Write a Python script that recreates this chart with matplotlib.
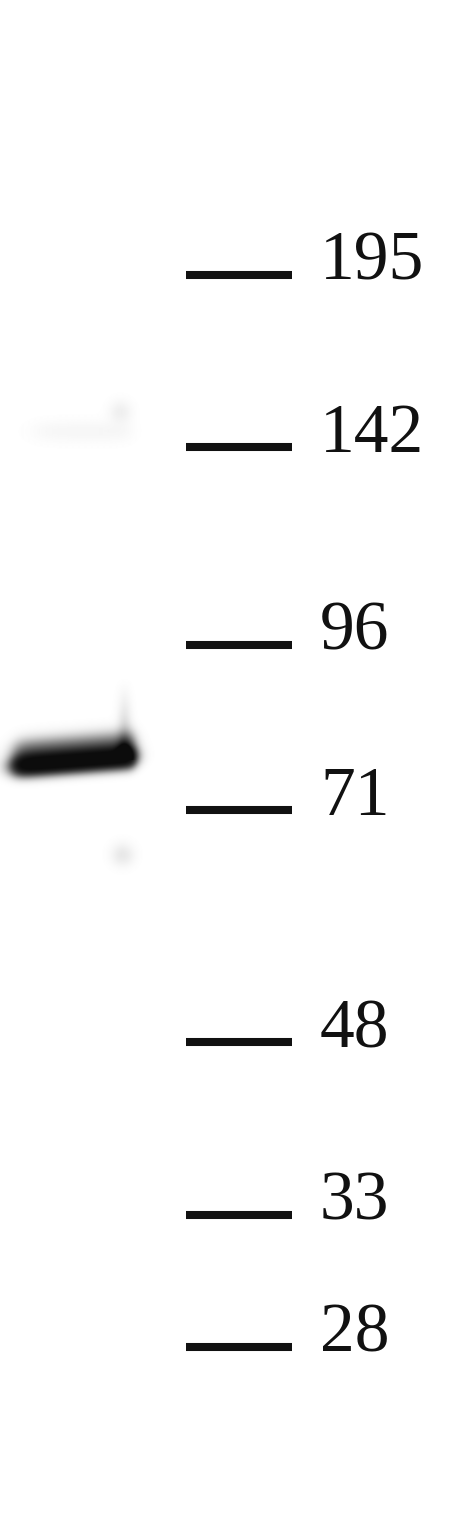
import numpy as np
import matplotlib
matplotlib.use("Agg")
import matplotlib.pyplot as plt

# ---- data (migration distance in gel units, top = 0) ----
marker_labels = ["195", "142", "96", "71", "48", "33", "28"]
marker_migration = [275, 447, 645, 810, 1042, 1215, 1347]

# sample lane band: (lane left, lane right, migration at left, migration at right, intensity)
band_lane = [16, 133]
band_migration = [766, 757]
band_intensity = 1.0

# faint background features: (x, y, intensity)
faint_spots = [(122, 855, 0.09), (120, 412, 0.06)]
faint_band = [35, 130, 432, 0.035]

W, H = 461, 1520
fig = plt.figure(figsize=(W / 100, H / 100), dpi=100)
ax = fig.add_axes([0, 0, 1, 1])
ax.set_xlim(0, W)
ax.set_ylim(H, 0)
ax.axis("off")

# ---- render gel lane as an intensity image ----
xs = np.arange(0, 200) + 0.5
ys = np.arange(0, H) + 0.5
X, Y = np.meshgrid(xs, ys)
img = np.zeros_like(X)

x0, x1 = band_lane
y0, y1 = band_migration
center = y0 + (y1 - y0) * (X - x0) / (x1 - x0)
d = Y - center
xmask = 1 / (1 + np.exp(-(X - x0) / 4.5)) * 1 / (1 + np.exp((X - x1) / 3.0))
core = np.exp(-d**2 / (2 * 6.5**2))
halo = 0.30 * np.exp(-(d + 11)**2 / (2 * 9**2))
g = (core + halo) * xmask
img += band_intensity * (1 - np.exp(-3.5 * g))

# vertical smear above right end of band
sx = np.exp(-(X - 124)**2 / (2 * 5**2))
sy = np.clip((Y - 675) / (750 - 675), 0, 1) * (Y < 760)
img += 0.25 * sx * sy**1.5

# faint features
fx0, fx1, fy, fi = faint_band
img += fi * np.exp(-(Y - fy)**2 / (2 * 8**2)) * (1 / (1 + np.exp(-(X - fx0) / 8))) * (1 / (1 + np.exp((X - fx1) / 5)))
for sxp, syp, si in faint_spots:
    img += si * np.exp(-((X - sxp)**2 + (Y - syp)**2) / (2 * 8**2))

img = np.clip(img, 0, 0.95)
ax.imshow(img, cmap="gray_r", vmin=0, vmax=1, extent=[0, 200, H, 0],
          interpolation="bilinear", aspect="auto", zorder=1)

# ---- marker ladder ----
ax.hlines(marker_migration, 186, 292, colors="#111111", linewidth=5.8,
          capstyle="butt", zorder=2)
for lab, y in zip(marker_labels, marker_migration):
    ax.text(320, y + 5, lab, fontsize=50, family="Liberation Serif",
            color="#111111", ha="left", va="baseline", zorder=3)

fig.savefig("out.png", dpi=100, facecolor="white")
